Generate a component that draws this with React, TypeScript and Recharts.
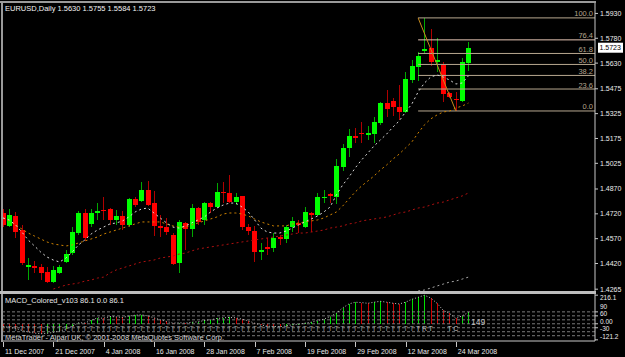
import React from 'react';
import { ComposedChart, Bar, Line, Scatter, XAxis, YAxis, ReferenceLine } from 'recharts';

const FONT = "'Liberation Sans', Arial, sans-serif";

// daily EURUSD bars, 11 Dec 2007 .. 26 Mar 2008
const open = [1.4725,1.4646,1.4707,1.4622,1.4398,1.4404,1.4398,1.4368,1.4308,1.4362,
  1.4429,1.4483,1.4604,1.4725,1.4658,1.4725,1.4743,1.4749,1.4683,1.4707,
  1.4652,1.4809,1.4797,1.4863,1.4785,1.4646,1.4640,1.4592,1.4423,1.4664,
  1.4628,1.4755,1.4683,1.4785,1.4761,1.4851,1.4845,1.4791,1.4827,1.4640,
  1.4616,1.4489,1.4519,1.4513,1.4580,1.4568,1.4640,1.4664,1.4640,1.4725,
  1.4713,1.4815,1.4839,1.4821,1.5003,1.5118,1.5190,1.5208,1.5196,1.5202,
  1.5269,1.5389,1.5401,1.5365,1.5335,1.5528,1.5607,1.5703,1.5722,1.5637,
  1.5619,1.5450,1.5414,1.5401,1.5630];
const high = [1.4749,1.4749,1.4731,1.4652,1.4453,1.4435,1.4416,1.4398,1.4405,1.4410,
  1.4501,1.4640,1.4737,1.4749,1.4749,1.4785,1.4821,1.4755,1.4743,1.4737,
  1.4815,1.4821,1.4912,1.4918,1.4858,1.4713,1.4695,1.4604,1.4683,1.4670,
  1.4779,1.4761,1.4791,1.4791,1.4906,1.4912,1.4954,1.4845,1.4830,1.4658,
  1.4646,1.4543,1.4574,1.4604,1.4592,1.4652,1.4701,1.4683,1.4761,1.4731,
  1.4845,1.4863,1.4845,1.5051,1.5142,1.5232,1.5238,1.5275,1.5251,1.5305,
  1.5395,1.5468,1.5420,1.5498,1.5577,1.5649,1.5697,1.5903,1.5836,1.5782,
  1.5637,1.5456,1.5456,1.5661,1.5755];
const low = [1.4640,1.4640,1.4574,1.4411,1.4320,1.4362,1.4320,1.4302,1.4302,1.4356,
  1.4423,1.4471,1.4592,1.4556,1.4640,1.4683,1.4683,1.4652,1.4652,1.4622,
  1.4640,1.4761,1.4791,1.4767,1.4586,1.4580,1.4592,1.4411,1.4362,1.4501,
  1.4580,1.4652,1.4652,1.4725,1.4755,1.4785,1.4785,1.4773,1.4622,1.4592,
  1.4429,1.4441,1.4471,1.4489,1.4531,1.4543,1.4610,1.4604,1.4634,1.4610,
  1.4707,1.4785,1.4785,1.4779,1.4979,1.5063,1.5148,1.5148,1.5166,1.5148,
  1.5256,1.5305,1.5311,1.5287,1.5329,1.5510,1.5522,1.5685,1.5613,1.5577,
  1.5395,1.5420,1.5341,1.5395,1.5584];
const close = [1.4652,1.4713,1.4610,1.4423,1.4410,1.4392,1.4362,1.4308,1.4380,1.4398,
  1.4477,1.4610,1.4725,1.4574,1.4725,1.4737,1.4737,1.4683,1.4707,1.4652,
  1.4809,1.4773,1.4863,1.4773,1.4646,1.4634,1.4610,1.4417,1.4670,1.4628,
  1.4755,1.4670,1.4785,1.4761,1.4851,1.4845,1.4791,1.4821,1.4640,1.4616,
  1.4489,1.4501,1.4507,1.4574,1.4568,1.4640,1.4676,1.4652,1.4731,1.4713,
  1.4821,1.4821,1.4827,1.5008,1.5118,1.5190,1.5178,1.5202,1.5208,1.5275,
  1.5389,1.5353,1.5365,1.5335,1.5534,1.5613,1.5673,1.5716,1.5637,1.5649,
  1.5444,1.5426,1.5408,1.5637,1.5723];

// moving averages
const maFast = [1.4695,1.4683,1.4653,1.4610,1.4562,1.4526,1.4489,1.4459,1.4441,1.4429,
  1.4453,1.4489,1.4532,1.4562,1.4598,1.4622,1.4640,1.4659,1.4665,1.4677,
  1.4701,1.4731,1.4749,1.4755,1.4725,1.4695,1.4665,1.4640,1.4634,1.4647,
  1.4665,1.4683,1.4701,1.4731,1.4755,1.4773,1.4785,1.4785,1.4761,1.4731,
  1.4683,1.4634,1.4610,1.4604,1.4604,1.4616,1.4634,1.4653,1.4671,1.4689,
  1.4707,1.4731,1.4761,1.4834,1.4894,1.4942,1.4997,1.5045,1.5087,1.5130,
  1.5166,1.5202,1.5244,1.5281,1.5335,1.5383,1.5456,1.5510,1.5546,1.5559,
  1.5546,1.5528,1.5504,1.5510,1.5553];
const maMid = [1.4695,1.4677,1.4653,1.4628,1.4604,1.4586,1.4568,1.4550,1.4538,1.4532,
  1.4526,1.4532,1.4544,1.4556,1.4568,1.4580,1.4598,1.4610,1.4622,1.4634,
  1.4647,1.4659,1.4671,1.4671,1.4671,1.4671,1.4659,1.4647,1.4640,1.4640,
  1.4653,1.4665,1.4677,1.4689,1.4701,1.4719,1.4725,1.4725,1.4719,1.4707,
  1.4689,1.4671,1.4659,1.4647,1.4647,1.4647,1.4659,1.4665,1.4671,1.4677,
  1.4683,1.4695,1.4713,1.4731,1.4767,1.4810,1.4852,1.4888,1.4918,1.4949,
  1.4985,1.5015,1.5051,1.5081,1.5118,1.5154,1.5208,1.5257,1.5293,1.5317,
  1.5335,1.5341,1.5359,1.5371,1.5389];
const maSlowStart = 8;
const maSlow = [1.4266,1.4278,1.4290,1.4296,1.4302,1.4314,1.4320,1.4332,1.4338,1.4363,
  1.4381,1.4393,1.4405,1.4417,1.4429,1.4435,1.4441,1.4453,1.4459,1.4465,
  1.4477,1.4483,1.4496,1.4508,1.4514,1.4520,1.4526,1.4532,1.4538,1.4544,
  1.4550,1.4556,1.4562,1.4568,1.4574,1.4580,1.4586,1.4592,1.4598,1.4604,
  1.4604,1.4610,1.4616,1.4622,1.4634,1.4640,1.4647,1.4659,1.4665,1.4677,
  1.4683,1.4689,1.4695,1.4701,1.4713,1.4725,1.4731,1.4743,1.4755,1.4761,
  1.4773,1.4785,1.4791,1.4804,1.4816,1.4828,1.4846];
const maLongStart = 66;
const maLong = [1.4254,1.4260,1.4272,1.4284,1.4296,1.4308,1.4314,1.4326,1.4338];

// MACD histogram (points)
const macd = [-20,-28,-35,-50,-62,-70,-75,-72,-65,-55,-40,-20,
  8,6,25,45,42,55,52,48,58,65,68,60,45,
  30,18,5,8,5,12,15,25,30,40,45,48,45,
  35,22,5,-10,-18,-20,-22,-15,-8,-3,5,
  12,24,35,55,80,120,150,163,160,155,163,170,
  163,155,150,163,185,200,216,195,155,101,78,40,60,86.1];
const macdLevels = [90, 60, 30, 0, -30, -60, -90];
const macdTicks = [216.1, 90, 60, 0, -30, -121.2];
const glyphRow = 'TTTTTTTTTTTTTTTTTTTTTTTTTTTTTTTTTTTTTTTTTTTTTTTTTTTTTTTTTTTTTTTTTTTRT  TC';

const priceTicks = [1.593, 1.578, 1.563, 1.5475, 1.5325, 1.5175, 1.5025, 1.487, 1.472, 1.457, 1.442, 1.4265];
const dateTickIdx = [0, 8, 16, 24, 32, 40, 48, 56, 64, 72];
const dateLabels = ['11 Dec 2007', '21 Dec 2007', '4 Jan 2008', '16 Jan 2008', '28 Jan 2008',
  '7 Feb 2008', '19 Feb 2008', '29 Feb 2008', '12 Mar 2008', '24 Mar 2008'];

const fibHigh = 1.5903;
const fibLow = 1.5341;
const fibFrom = 66;
const fibTo = 72;
const fibRatios = [0, 0.236, 0.382, 0.5, 0.618, 0.764, 1];
const fibNames = ['0.0', '23.6', '38.2', '50.0', '61.8', '76.4', '100.0'];

const X_DOMAIN: [number, number] = [-0.16, 94.12];
// small vertical nudges so the crowded MACD scale labels don't sit on each other
const MACD_TICK_DY = [2.3, -5.4, -1.8, -2.3, 1.2, -3.3];

const rows = open.map((o, i) => ({
  i,
  o,
  h: high[i],
  l: low[i],
  c: close[i],
  fast: maFast[i],
  mid: maMid[i],
  slow: i >= maSlowStart ? maSlow[i - maSlowStart] : null,
  long: i >= maLongStart ? maLong[i - maLongStart] : null,
  macd: macd[i],
}));

const glyphs = glyphRow
  .split('')
  .map((t, i) => ({ i, y: -47, t }))
  .filter((g) => g.t !== ' ');

const Candle = (props: any) => {
  const { x, width, payload } = props;
  let { y, height } = props;
  if (height < 0) {
    y += height;
    height = -height;
  }
  const { o, h, l, c } = payload;
  const up = c >= o;
  const k = h > l ? height / (h - l) : 0;
  const top = y + (h - Math.max(o, c)) * k;
  const bot = y + (h - Math.min(o, c)) * k;
  const left = Math.round(x);
  const cx = left + width / 2;
  return (
    <g shapeRendering="crispEdges">
      <line x1={cx} x2={cx} y1={y} y2={y + height} stroke={up ? '#00a800' : '#b00000'} />
      <rect x={left} y={top} width={width} height={Math.max(bot - top, 1)} fill={up ? '#00ff00' : '#ff0000'} />
    </g>
  );
};

const HistBar = (props: any) => {
  const { x, payload } = props;
  let { y, height } = props;
  if (height < 0) {
    y += height;
    height = -height;
  }
  const prev = payload.i > 0 ? macd[payload.i - 1] : Infinity;
  const color = payload.macd > prev ? '#00e000' : '#d00000';
  return <rect x={Math.round(x)} y={y} width={1} height={Math.max(height, 1)} fill={color} shapeRendering="crispEdges" />;
};

const Glyph = (props: any) => {
  const { cx, cy, payload } = props;
  return (
    <text x={cx} y={cy + 1} textAnchor="middle" fontSize={7} fontFamily={FONT} fill={payload.i > 65 ? '#c0c0c0' : '#9a9a9a'}>
      {payload.t}
    </text>
  );
};

const fibLabel = (name: string) => (props: any) => {
  const vb = props.viewBox || {};
  return (
    <text x={vb.x + vb.width - 2} y={vb.y - 1.5} textAnchor="end" fontSize={7.5} fontFamily={FONT} fill="#b4a48e">
      {name}
    </text>
  );
};

const priceTag = (props: any) => {
  const vb = props.viewBox || {};
  const x0 = vb.x + vb.width + 3;
  return (
    <g>
      <rect x={x0} y={vb.y - 5} width={25} height={10} fill="#ffffff" />
      <text x={x0 + 1.5} y={vb.y + 2.6} fontSize={7} fontFamily={FONT} fill="#000000">
        {close[close.length - 1].toFixed(4)}
      </text>
    </g>
  );
};

const DateTick = (props: any) => {
  const { x, y, payload } = props;
  const px = Math.round(x) + 0.5;
  return (
    <g>
      <line x1={px} x2={px} y1={y + 1} y2={y + 6} stroke="#c8c8c8" />
      <text x={x + 2} y={y + 13} fontSize={7} fontFamily={FONT} fill="#e8e8e8">
        {dateLabels[dateTickIdx.indexOf(payload.value)]}
      </text>
    </g>
  );
};

const MacdTick = (props: any) => {
  const { x, y, payload } = props;
  const k = macdTicks.indexOf(payload.value);
  const dy = k >= 0 ? MACD_TICK_DY[k] : 0;
  const v = payload.value;
  return (
    <text x={x} y={y + dy + 2.3} fontSize={6.5} fontFamily={FONT} fill="#ececec" textAnchor="start">
      {v === 0 ? '0.00' : String(v)}
    </text>
  );
};

const axisTick = { fontSize: 7, fill: '#ececec', fontFamily: FONT };

export default function App() {
  return (
    <div style={{ position: 'fixed', left: 0, top: 0, width: 625, height: 357, background: '#000', overflow: 'hidden' }}>
      <div style={{ position: 'absolute', left: 0, top: 0 }}>
        <ComposedChart width={625} height={292} data={rows} margin={{ top: 3, right: 0, bottom: 0, left: 2 }}>
          <XAxis type="number" dataKey="i" domain={X_DOMAIN} allowDataOverflow hide />
          <YAxis
            orientation="right"
            width={30}
            domain={[1.4248, 1.5993]}
            allowDataOverflow
            ticks={priceTicks}
            interval={0}
            tick={axisTick}
            tickFormatter={(v: number) => v.toFixed(4)}
            axisLine={{ stroke: '#c8c8c8' }}
            tickLine={{ stroke: '#c8c8c8' }}
            tickSize={3}
            tickMargin={2}
          />
          {fibRatios.map((r, k) => {
            const lvl = fibLow + r * (fibHigh - fibLow);
            return (
              <ReferenceLine
                key={fibNames[k]}
                segment={[{ x: fibFrom, y: lvl }, { x: X_DOMAIN[1], y: lvl }]}
                stroke={fibNames[k] === '76.4' ? '#e6c6b4' : '#b8a890'}
                ifOverflow="visible"
                label={fibLabel(fibNames[k])}
              />
            );
          })}
          <ReferenceLine
            segment={[{ x: fibFrom, y: fibHigh }, { x: fibTo, y: fibLow }]}
            stroke="#c88a1c"
            ifOverflow="visible"
          />
          <Bar dataKey={(d: any) => [d.l, d.h]} barSize={5} shape={<Candle />} isAnimationActive={false} />
          <Line dataKey="long" stroke="#a8a8a8" strokeDasharray="2 3" dot={false} isAnimationActive={false} />
          <Line dataKey="slow" stroke="#b01010" strokeDasharray="2 3" dot={false} isAnimationActive={false} />
          <Line dataKey="mid" stroke="#d08400" strokeDasharray="2 3" dot={false} isAnimationActive={false} />
          <Line dataKey="fast" stroke="#d8d8d8" strokeDasharray="2 3" dot={false} isAnimationActive={false} />
          <ReferenceLine y={close[close.length - 1]} stroke="none" ifOverflow="visible" label={priceTag} />
        </ComposedChart>
      </div>

      <div style={{ position: 'absolute', left: 0, top: 292 }}>
        <ComposedChart width={625} height={65} data={rows} margin={{ top: 2, right: 0, bottom: 0, left: 2 }}>
          <XAxis
            type="number"
            dataKey="i"
            domain={X_DOMAIN}
            allowDataOverflow
            ticks={dateTickIdx}
            interval={0}
            height={16}
            tick={<DateTick />}
            tickLine={false}
            tickSize={0}
            tickMargin={0}
            axisLine={{ stroke: '#c8c8c8' }}
          />
          <YAxis
            orientation="right"
            width={30}
            domain={[-130, 225]}
            allowDataOverflow
            ticks={macdTicks}
            interval={0}
            tick={<MacdTick />}
            axisLine={{ stroke: '#c8c8c8' }}
            tickLine={{ stroke: '#c8c8c8' }}
            tickSize={3}
            tickMargin={2}
          />
          {macdLevels.map((v) => (
            <ReferenceLine key={v} y={v} stroke="#7a7a7a" strokeDasharray="3 2" />
          ))}
          <Bar dataKey="macd" barSize={1} shape={<HistBar />} isAnimationActive={false} />
          <Line dataKey="macd" stroke="#c4c4c4" strokeDasharray="1 2" dot={false} isAnimationActive={false} />
          <Scatter data={glyphs} dataKey="y" shape={<Glyph />} isAnimationActive={false} />
        </ComposedChart>
      </div>

      <svg width={625} height={357} style={{ position: 'absolute', left: 0, top: 0, pointerEvents: 'none' }}>
        <rect x={0} y={1} width={596} height={2} fill="#9a9a9a" />
        <rect x={1} y={1} width={2} height={341} fill="#9a9a9a" />
        <rect x={0} y={291} width={596} height={3} fill="#bdbdbd" />
        <text x={5} y={10.7} fontSize={7.5} fontFamily={FONT} fill="#f2f2f2">
          EURUSD,Daily  1.5630 1.5755 1.5584 1.5723
        </text>
        <text x={5} y={303.3} fontSize={7.5} fontFamily={FONT} fill="#e6e6e6">
          MACD_Colored_v103 86.1 0.0 86.1
        </text>
        <text x={5} y={340.2} fontSize={7.5} fontFamily={FONT} fill="#d4d4d4">
          MetaTrader - Alpari UK, © 2001-2008 MetaQuotes Software Corp.
        </text>
        <text x={471} y={325} fontSize={8.5} fontFamily={FONT} fill="#c0c0c0">
          149
        </text>
      </svg>
    </div>
  );
}
